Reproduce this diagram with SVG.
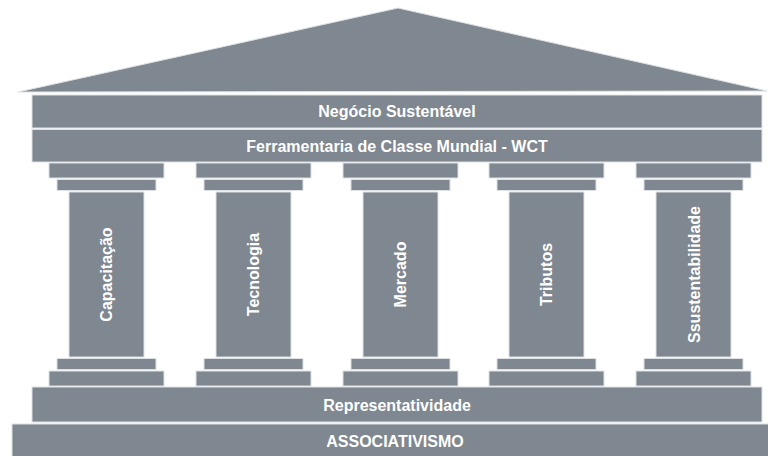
<svg xmlns="http://www.w3.org/2000/svg" width="768" height="456" viewBox="0 0 768 456">
<style>
.s{fill:#7f8790;stroke:#dfe2e5;stroke-width:1}
.t{fill:#ffffff;font-family:"Liberation Sans",Arial,sans-serif;font-weight:bold;font-size:16px;text-anchor:middle}
</style>
<defs>
<g id="col">
<rect class="s" x="49" y="163" width="115" height="15"/>
<rect class="s" x="57" y="179.5" width="99" height="11"/>
<rect class="s" x="69" y="192" width="75" height="165"/>
<rect class="s" x="57" y="358.5" width="99" height="11"/>
<rect class="s" x="49" y="371" width="115" height="15"/>
</g>
</defs>
<rect width="768" height="456" fill="#ffffff"/>
<g id="roof"><polygon class="s" points="18,92 398,8 767,91"/></g>
<g id="negocio"><rect class="s" x="32" y="95" width="730" height="33"/><text class="t" x="397" y="117">Negócio Sustentável</text></g>
<g id="ferramentaria"><rect class="s" x="32" y="129.5" width="730" height="32.5"/><text class="t" x="397" y="152">Ferramentaria de Classe Mundial - WCT</text></g>
<g id="capacitacao"><use href="#col"/><text class="t" transform="translate(112,274.5) rotate(-90)">Capacitação</text></g>
<g id="tecnologia"><use href="#col" x="147"/><text class="t" transform="translate(259,274.5) rotate(-90)">Tecnologia</text></g>
<g id="mercado"><use href="#col" x="294"/><text class="t" transform="translate(406,274.5) rotate(-90)">Mercado</text></g>
<g id="tributos"><use href="#col" x="440"/><text class="t" transform="translate(552,274.5) rotate(-90)">Tributos</text></g>
<g id="ssustentabilidade"><use href="#col" x="587"/><text class="t" transform="translate(699.5,274.5) rotate(-90)">Ssustentabilidade</text></g>
<g id="representatividade"><rect class="s" x="32" y="387" width="730" height="35"/><text class="t" x="397" y="411">Representatividade</text></g>
<g id="associativismo"><rect class="s" x="12" y="424" width="760" height="36"/><text class="t" x="395" y="447">ASSOCIATIVISMO</text></g>
<g id="connectors"></g>
</svg>
